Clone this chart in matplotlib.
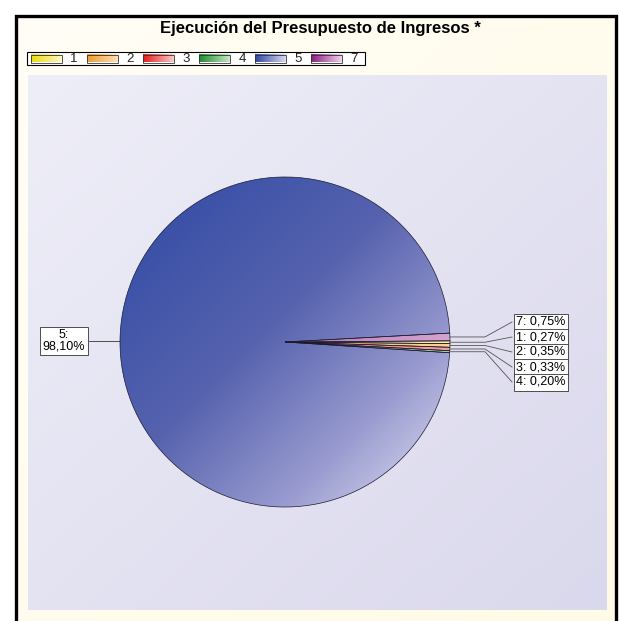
import numpy as np
import matplotlib
matplotlib.use("Agg")
import matplotlib.pyplot as plt
from matplotlib.colors import LinearSegmentedColormap, to_rgb
from matplotlib.patches import Rectangle

plt.rcParams['font.family'] = ['Liberation Sans', 'DejaVu Sans']

# ---- data ----
title = "Ejecución del Presupuesto de Ingresos *"
categories = ["1", "2", "3", "4", "5", "7"]
values = [0.27, 0.35, 0.33, 0.20, 98.10, 0.75]
labels = ["1: 0,27%", "2: 0,35%", "3: 0,33%", "4: 0,20%", "5:\n98,10%", "7: 0,75%"]

# ---- styles ----
dark = ["#e8dc10", "#f09a30", "#e01c1c", "#1c8a2c", "#2f46a0", "#86207e"]
light = ["#fff8c8", "#ffe2b8", "#ffc8c8", "#c8e8c8", "#d8daf2", "#f2d0ee"]
W, H = 619, 621
fig = plt.figure(figsize=(W / 100, H / 100), dpi=100)
fig.patch.set_facecolor("white")
ax = fig.add_axes([0, 0, 1, 1])
ax.set_xlim(0, W)
ax.set_ylim(0, H)
ax.axis("off")

def Y(py):
    return H - py

def grad_image(c0, c1, n=200, diag=True):
    a = np.array(to_rgb(c0)); b = np.array(to_rgb(c1))
    xx, yy = np.meshgrid(np.linspace(0, 1, n), np.linspace(0, 1, n))
    t = (xx + yy) / 2 if diag else xx
    return a + (b - a) * t[..., None]

# frame background (cream) and border
ax.imshow(grad_image("#fffef6", "#fffbe6"), extent=(16, 616, Y(625), Y(16)),
          origin="upper", aspect="auto", zorder=0, interpolation="bilinear")
ax.plot([15.5, 15.5, 615.5, 615.5], [Y(625), Y(15.5), Y(15.5), Y(625)],
        color="black", lw=2.4, solid_joinstyle="miter", zorder=1)

# plot area gradient
ax.imshow(grad_image("#eeeef8", "#dad8ec"), extent=(28, 607, Y(610), Y(75)),
          origin="upper", aspect="auto", zorder=1, interpolation="bilinear")

# title
ax.text(320, Y(28), title, ha="center", va="center", fontsize=12,
        fontweight="bold", zorder=5)

# legend
lx0, step = 27, 56
ax.add_patch(Rectangle((lx0, Y(65)), 338, 13, facecolor="white",
                       edgecolor="black", lw=0.8, zorder=4))
for i, cat in enumerate(categories):
    px = 31 + i * step
    ax.imshow(grad_image(dark[i], light[i], diag=False),
              extent=(px, px + 31, Y(62.5), Y(54.5)), origin="upper",
              aspect="auto", zorder=5, interpolation="bilinear")
    ax.add_patch(Rectangle((px, Y(62.5)), 31, 8, facecolor="none",
                           edgecolor="#333333", lw=0.6, zorder=6))
    ax.text(px + 43, Y(58.5), cat, ha="center", va="center", fontsize=9.5,
            color="#222222", zorder=6)

# pie
cx, cy, r = 285, Y(342), 165
wedges, _ = ax.pie(values, center=(cx, cy), radius=r, startangle=0.4,
                   counterclock=False, frame=True,
                   wedgeprops=dict(edgecolor="#1a1a30", linewidth=0.5))
ax.set_xlim(0, W)
ax.set_ylim(0, H)
ax.set_aspect("auto")
ax.axis("off")

big_cmap = LinearSegmentedColormap.from_list(
    "big", [(0, "#2f4aa4"), (0.45, "#5662ae"), (0.75, "#9a9cd0"), (1, "#e4e4f4")])
for i, w in enumerate(wedges):
    w.set_zorder(3)
    if categories[i] == "5":
        n = 300
        xx, yy = np.meshgrid(np.linspace(0, 1, n), np.linspace(0, 1, n))
        t = (xx + yy) / 2
        img = big_cmap(t)
    else:
        img = grad_image(dark[i], light[i])
    im = ax.imshow(img, extent=(cx - r, cx + r, cy - r, cy + r), origin="upper",
                   aspect="auto", zorder=2.5, interpolation="bilinear")
    im.set_clip_path(w)
    w.set_facecolor("none")

# labels (small slices stacked so that all texts stay readable)
label_pos = {"5": (64, 341), "7": (541, 322), "1": (541, 337),
             "2": (541, 352), "3": (541, 367), "4": (541, 382)}
for cat in ["7", "1", "2", "3", "4", "5"]:
    i = categories.index(cat)
    w = wedges[i]
    ang = np.deg2rad((w.theta1 + w.theta2) / 2)
    ex, ey = cx + r * np.cos(ang), cy + r * np.sin(ang)
    tx, ty = label_pos[cat]
    ty = Y(ty)
    if cat == "5":
        ax.plot([ex, tx + 25], [ey, ey], color="#333333", lw=0.6, zorder=4)
    else:
        ax.plot([ex, 485, 512], [ey, ey, ty], color="#555555", lw=0.6, zorder=4)
    ax.text(tx, ty, labels[i], ha="center", va="center", fontsize=9,
            linespacing=0.95, zorder=7,
            bbox=dict(boxstyle="square,pad=0.2", facecolor="white",
                      edgecolor="#333333", lw=0.6))

fig.savefig("out.png", dpi=100)
